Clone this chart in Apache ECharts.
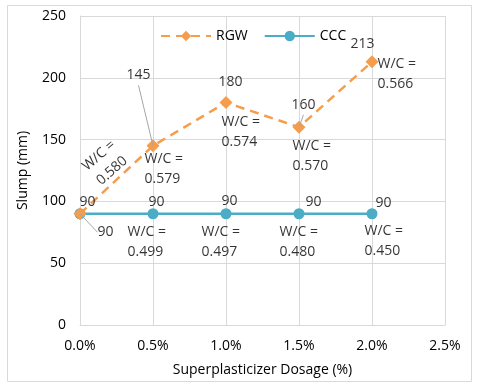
<!DOCTYPE html>
<html>
<head>
<meta charset="utf-8">
<script src="https://cdn.jsdelivr.net/npm/echarts@6/dist/echarts.min.js"></script>
<style>
  html, body { margin: 0; padding: 0; background: #fff; }
  #main { width: 477px; height: 388px; }
</style>
</head>
<body>
<div id="main"></div>
<script>
// data
var dosage = [0, 0.5, 1.0, 1.5, 2.0];          // superplasticizer dosage (%)
var rgwSlump = [90, 145, 180, 160, 213];       // mm
var cccSlump = [90, 90, 90, 90, 90];           // mm
var rgwWC = ['0.580', '0.579', '0.574', '0.570', '0.566'];
var cccWC = ['', '0.499', '0.497', '0.480', '0.450'];

var orange = '#F59D4C';
var teal = '#4BACC6';
var font = 'Open Sans';
var textColor = '#000';

function pairs(ys) {
    return dosage.map(function (x, i) { return [x, ys[i]]; });
}

// where each label sits, relative to its point (px)
var rgwValPos = [[8, -11], [-14, -70], [5, -20], [5, -22], [-9, -17]];
var cccValPos = [[26, 19], [4, -11], [4, -12], [15, -11], [12, -10]];
var rgwWCPos = [[26, -50], [-8, 24], [-4, 30], [-6, 29], [6, 13]];
var cccWCPos = [[0, 0], [-25, 29], [-24, 29], [-19, 29], [-7, 28]];
var leaderRGW = [false, true, false, true, false];
var leaderCCC = [true, false, false, false, false];

var labelText = { color: textColor, fontFamily: font, fontSize: 14, lineHeight: 20 };

function labelItems(ys, pos, text, align, leader) {
    return pairs(ys).map(function (p, i) {
        var item = {
            value: p,
            label: Object.assign({
                show: text(i) !== '',
                position: pos[i],
                align: align,
                verticalAlign: 'middle',
                formatter: text(i)
            }, labelText)
        };
        if (leader && leader[i]) {
            item.labelLine = { show: true, lineStyle: { color: '#a6a6a6', width: 1 } };
        }
        return item;
    });
}

var rgwVal = labelItems(rgwSlump, rgwValPos, function (i) { return String(rgwSlump[i]); }, 'center', leaderRGW);
var cccVal = labelItems(cccSlump, cccValPos, function (i) { return String(cccSlump[i]); }, 'center', leaderCCC);
var rgwWCItems = labelItems(rgwSlump, rgwWCPos, function (i) { return 'W/C =\n' + rgwWC[i]; }, 'left');
var cccWCItems = labelItems(cccSlump, cccWCPos, function (i) { return cccWC[i] ? 'W/C =\n' + cccWC[i] : ''; }, 'left');
// first RGW W/C label runs along the line
rgwWCItems[0].label.align = 'center';
rgwWCItems[0].label.rotate = 41;

function labelSeries(name, data) {
    return {
        name: name,
        type: 'scatter',
        symbolSize: 1,
        z: 5,
        silent: true,
        itemStyle: { color: 'rgba(0,0,0,0)' },
        labelLine: { show: false },
        data: data
    };
}

var myChart = echarts.init(document.getElementById('main'));

var option = {
    animation: false,
    textStyle: { fontFamily: font },
    graphic: [{
        type: 'rect',
        shape: { x: 7.5, y: 5.5, width: 464, height: 376 },
        style: { fill: 'none', stroke: '#d9d9d9', lineWidth: 1 },
        silent: true
    }],
    grid: { left: 80, top: 16, right: 32, bottom: 63 },
    legend: {
        top: 24,
        left: 155,
        itemWidth: 50,
        itemHeight: 13,
        itemGap: 16,
        textStyle: { color: textColor, fontFamily: font, fontSize: 14 },
        data: ['RGW', 'CCC']
    },
    xAxis: {
        type: 'value',
        min: 0,
        max: 2.5,
        interval: 0.5,
        name: 'Superplasticizer Dosage (%)',
        nameLocation: 'middle',
        nameGap: 38,
        nameTextStyle: { color: textColor, fontFamily: font, fontSize: 14 },
        axisLine: { show: true, lineStyle: { color: '#d9d9d9' } },
        axisTick: { show: false },
        axisLabel: {
            color: textColor, fontFamily: font, fontSize: 14, margin: 14,
            formatter: function (v) { return v.toFixed(1) + '%'; }
        },
        splitLine: { show: true, lineStyle: { color: '#d9d9d9' } }
    },
    yAxis: {
        type: 'value',
        min: 0,
        max: 250,
        interval: 50,
        name: 'Slump (mm)',
        nameLocation: 'middle',
        nameGap: 50,
        nameTextStyle: { color: textColor, fontFamily: font, fontSize: 14 },
        axisLine: { show: true, lineStyle: { color: '#d9d9d9' } },
        axisTick: { show: false },
        axisLabel: { color: textColor, fontFamily: font, fontSize: 14, margin: 14 },
        splitLine: { show: true, lineStyle: { color: '#d9d9d9' } }
    },
    series: [
        {
            name: 'RGW',
            type: 'line',
            symbol: 'diamond',
            symbolSize: 13,
            z: 3,
            itemStyle: { color: orange },
            lineStyle: { color: orange, width: 2.5, type: [9, 6] },
            data: pairs(rgwSlump)
        },
        {
            name: 'CCC',
            type: 'line',
            symbol: 'circle',
            symbolSize: 11,
            z: 2,
            itemStyle: { color: teal },
            lineStyle: { color: teal, width: 2.5 },
            data: pairs(cccSlump)
        },
        labelSeries('RGW value', rgwVal),
        labelSeries('CCC value', cccVal),
        labelSeries('RGW W/C', rgwWCItems),
        labelSeries('CCC W/C', cccWCItems)
    ]
};

myChart.setOption(option);
</script>
</body>
</html>
